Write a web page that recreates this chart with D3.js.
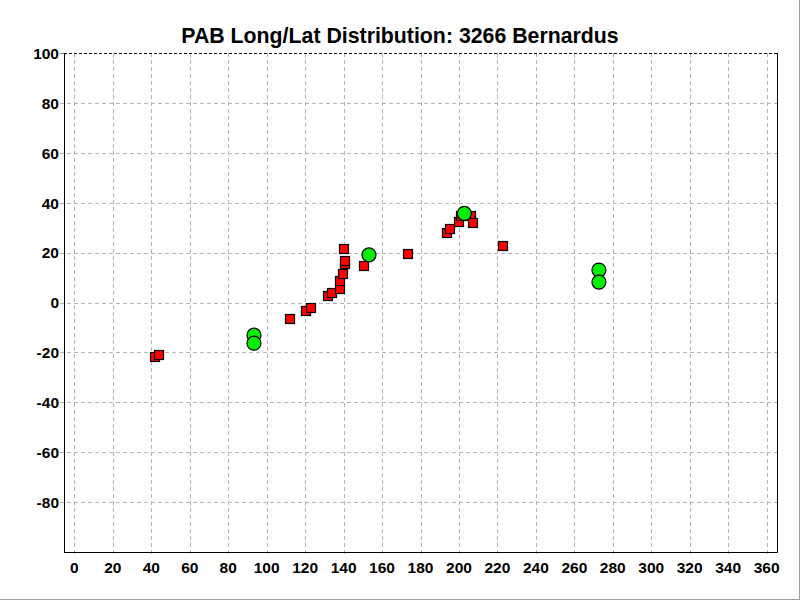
<!DOCTYPE html>
<html><head><meta charset="utf-8">
<script src="https://cdn.jsdelivr.net/npm/d3@7"></script>
<style>
body{margin:0;background:#fff;}
svg{display:block;}
text{font-family:"Liberation Sans",Arial,sans-serif;font-weight:bold;}
</style></head>
<body>
<svg id="c" width="800" height="600"></svg>
<script>
const title = "PAB Long/Lat Distribution: 3266 Bernardus";
const xTicks = [0,20,40,60,80,100,120,140,160,180,200,220,240,260,280,300,320,340,360];
const yTicks = [100,80,60,40,20,0,-20,-40,-60,-80];
// red squares: longitude, latitude
const redLong = [41.5,43.5,111.8,120.3,122.7,131.8,133.6,137.8,137.8,139.4,140.4,140.4,139.9,150.3,153.2,173.2,193.6,195.0,199.7,201.0,205.8,207.0,222.9];
const redLat  = [-21.8,-21.0,-6.4,-3.1,-1.9,3.0,4.2,5.7,8.7,11.7,15.8,17.0,21.8,14.7,19.1,19.8,28.1,29.5,32.4,35.0,34.8,31.9,22.7];
// green circles
const greenLong = [93.4,93.4,153.2,202.8,272.8,272.8];
const greenLat  = [-13.1,-16.3,19.1,35.7,13.0,8.2];

const svg = d3.select("#c");
const L=64, R=777, T=53, B=552;
const x = d3.scaleLinear().domain([-5.4,365.4]).range([L,R]);
const y = d3.scaleLinear().domain([-100,100]).range([B,T]);

// frame border of window
svg.append("line").attr("x1",0).attr("x2",800).attr("y1",599.5).attr("y2",599.5).attr("stroke","#a0a0a0");
svg.append("line").attr("x1",799.5).attr("x2",799.5).attr("y1",0).attr("y2",600).attr("stroke","#a0a0a0");

// grid
const g = svg.append("g");
g.selectAll("line.vx").data(xTicks).join("line")
  .attr("x1",d=>Math.round(x(d))+0.5).attr("x2",d=>Math.round(x(d))+0.5)
  .attr("y1",T).attr("y2",B+4)
  .attr("stroke","#b4b4b4").attr("stroke-dasharray","4,3");
g.selectAll("line.hy").data(yTicks.filter(d=>d!==100)).join("line")
  .attr("y1",d=>Math.round(y(d))+0.5).attr("y2",d=>Math.round(y(d))+0.5)
  .attr("x1",L-4).attr("x2",R)
  .attr("stroke","#b4b4b4").attr("stroke-dasharray","4,3");
svg.append("line").attr("x1",L-4).attr("x2",L).attr("y1",Math.round(y(100))+0.5).attr("y2",Math.round(y(100))+0.5).attr("stroke","#888");
// top dashed border
svg.append("line").attr("x1",L).attr("x2",R).attr("y1",Math.round(y(100))+0.5).attr("y2",Math.round(y(100))+0.5)
  .attr("stroke","#000").attr("stroke-dasharray","3,2");
// axes lines
svg.append("line").attr("x1",L+0.5).attr("x2",L+0.5).attr("y1",T).attr("y2",B+0.5).attr("stroke","#000");
svg.append("line").attr("x1",L).attr("x2",R+0.5).attr("y1",B+0.5).attr("y2",B+0.5).attr("stroke","#000");
svg.append("line").attr("x1",R+0.5).attr("x2",R+0.5).attr("y1",T).attr("y2",B+0.5).attr("stroke","#000");

// tick labels
svg.append("g").selectAll("text").data(xTicks).join("text")
  .attr("x",d=>x(d)).attr("y",B+21).attr("text-anchor","middle")
  .attr("font-size","15.5px").attr("fill","#000").text(d=>d);
svg.append("g").selectAll("text").data(yTicks).join("text")
  .attr("x",L-5).attr("y",d=>y(d)+5.8).attr("text-anchor","end")
  .attr("font-size","15.5px").attr("fill","#000").text(d=>d);

// title
svg.append("text").attr("x",400).attr("y",42.5).attr("text-anchor","middle")
  .attr("font-size","21.3px").attr("fill","#000").text(title);

// red squares
const s = 9;
svg.append("g").selectAll("rect").data(redLong.map((v,i)=>[v,redLat[i]])).join("rect")
  .attr("x",d=>Math.round(x(d[0])-s/2)+0.5).attr("y",d=>Math.round(y(d[1])-s/2)+0.5)
  .attr("width",s).attr("height",s)
  .attr("fill","#ff0000").attr("stroke","#000").attr("stroke-width",1.2);
// green circles
svg.append("g").selectAll("circle").data(greenLong.map((v,i)=>[v,greenLat[i]])).join("circle")
  .attr("cx",d=>x(d[0])).attr("cy",d=>y(d[1])).attr("r",7)
  .attr("fill","#00f000").attr("stroke","#000").attr("stroke-width",1.2);
</script>
</body></html>
